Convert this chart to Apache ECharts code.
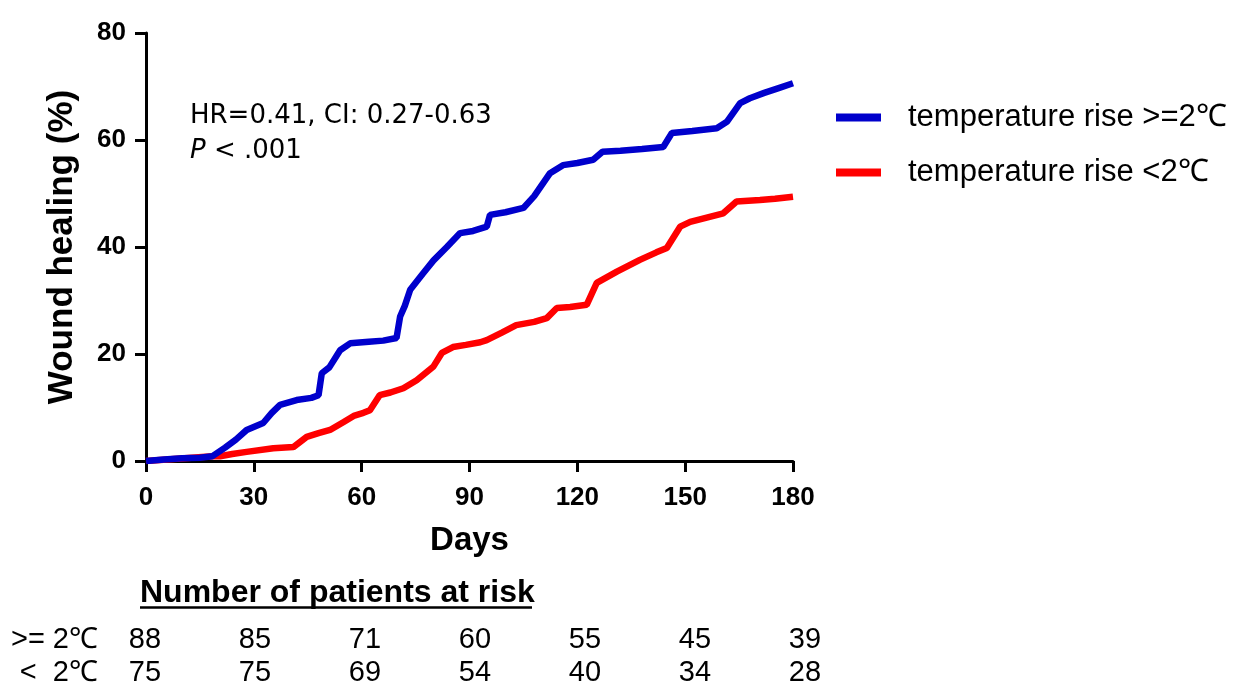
<!DOCTYPE html>
<html>
<head>
<meta charset="utf-8">
<script src="https://cdn.jsdelivr.net/npm/echarts@6/dist/echarts.min.js"></script>
<style>
html,body{margin:0;padding:0;background:#fff;}
#c{width:1234px;height:686px;}
</style>
</head>
<body>
<div id="c"></div>
<script>
// ---- data ----
var seriesNames = ['temperature rise >=2℃', 'temperature rise <2℃'];
var highRise = [[0,0],[5,0.3],[10,0.5],[15,0.6],[18.5,0.9],[22,2.5],[25,4],[28,5.8],[32.6,7.1],[35,9],[37.3,10.5],[41.9,11.4],[46,11.8],[48,12.3],[48.9,16.4],[51,17.5],[54,20.7],[56.8,22],[62,22.3],[66,22.5],[69.7,23],[70.7,27],[72,29],[73.5,32],[77,35],[80,37.5],[83.7,40],[87.4,42.6],[91,43],[94.8,43.8],[95.7,46],[100,46.5],[105,47.3],[108,49.5],[112.4,53.8],[116,55.3],[120,55.7],[124.4,56.3],[127,57.8],[132,58],[138,58.3],[143.9,58.7],[146.3,61.3],[152,61.7],[158.8,62.2],[161.6,63.4],[165.3,66.9],[168,67.8],[172,68.8],[176,69.7],[180,70.6]];
var lowRise = [[0,0],[18.5,0.9],[20.6,0.9],[24,1.3],[28,1.7],[35.4,2.4],[41,2.6],[44.7,4.5],[48,5.2],[51.2,5.8],[55,7.3],[58,8.5],[60.5,9],[62.3,9.5],[65,12.3],[68,12.8],[71.6,13.6],[75.3,15.1],[79.9,17.6],[82.3,20.2],[85.4,21.3],[89,21.7],[93,22.2],[94.8,22.6],[99,24],[103,25.4],[108,26],[111.5,26.7],[114.3,28.6],[118,28.8],[122.6,29.2],[125.4,33.3],[131,35.4],[137.4,37.6],[142,39],[144.9,39.8],[148.6,43.8],[151.4,44.7],[156,45.5],[160.6,46.3],[164.3,48.5],[170.8,48.8],[175,49],[180,49.4]];
var riskDays = [0, 30, 60, 90, 120, 150, 180];
var riskRowLabels = ['>= 2℃', '<  2℃'];
var riskHigh = [88, 85, 71, 60, 55, 45, 39];
var riskLow = [75, 75, 69, 54, 40, 34, 28];
var riskTitle = 'Number of patients at risk';
var annotation1 = 'HR=0.41, CI: 0.27-0.63';

var FONT = '"Liberation Sans", Arial, sans-serif';

function riskPoints(vals, row) {
  return vals.map(function (v, i) { return { value: [riskDays[i], row], label: { formatter: String(v) } }; });
}

var chart = echarts.init(document.getElementById('c'));
var axisLine = { show: true, lineStyle: { color: '#000', width: 3 } };
var axisTick = { show: true, inside: false, length: 11, lineStyle: { color: '#000', width: 3 } };
chart.setOption({
  backgroundColor: '#fff',
  animation: false,
  grid: [
    { left: 146, right: 441, top: 33, height: 428, containLabel: false, outerBoundsMode: 'none' },
    { left: 145, right: 429, top: 623, height: 66, containLabel: false, outerBoundsMode: 'none' }
  ],
  xAxis: [
    {
      gridIndex: 0, type: 'value', min: 0, max: 180, interval: 30,
      name: 'Days', nameLocation: 'middle', nameGap: 63,
      nameTextStyle: { fontFamily: FONT, fontWeight: 'bold', fontSize: 33, color: '#000' },
      axisLine: axisLine, axisTick: axisTick,
      axisLabel: { fontFamily: FONT, fontWeight: 'bold', fontSize: 26, color: '#000', margin: 24 },
      splitLine: { show: false }
    },
    { gridIndex: 1, type: 'value', min: 0, max: 180, show: false }
  ],
  yAxis: [
    {
      gridIndex: 0, type: 'value', min: 0, max: 80, interval: 20,
      name: 'Wound healing (%)', nameLocation: 'middle', nameGap: 66, nameRotate: 90,
      nameTextStyle: { fontFamily: FONT, fontWeight: 'bold', fontSize: 35, color: '#000' },
      axisLine: axisLine, axisTick: axisTick,
      axisLabel: { fontFamily: FONT, fontWeight: 'bold', fontSize: 26, color: '#000', margin: 20 },
      splitLine: { show: false }
    },
    {
      gridIndex: 1, type: 'category', data: riskRowLabels, inverse: true,
      axisLine: { show: false }, axisTick: { show: false }, splitLine: { show: false },
      axisLabel: { interval: 0, fontFamily: FONT, fontSize: 29, color: '#000', margin: 47 }
    }
  ],
  legend: {
    orient: 'vertical', left: 831, top: 97, itemWidth: 45, itemHeight: 8, itemGap: 24,
    icon: 'rect',
    data: [seriesNames[0], seriesNames[1]],
    textStyle: { fontFamily: FONT, fontSize: 31, color: '#000', padding: [0, 0, 0, 22] }
  },
  graphic: [
    { type: 'text', left: 190, top: 103, style: { text: annotation1, font: '26px "DejaVu Sans", sans-serif', fill: '#000' } },
    { type: 'text', left: 190, top: 138, style: { text: '{i|P} < .001', rich: { i: { fontStyle: 'italic', fontFamily: '"DejaVu Sans", sans-serif', fontSize: 26, fill: '#000' } }, font: '26px "DejaVu Sans", sans-serif', fill: '#000' } },
    { type: 'text', left: 140, top: 577, style: { text: riskTitle, font: 'bold 32px "Liberation Sans", Arial, sans-serif', fill: '#000' } },
    { type: 'line', shape: { x1: 140, y1: 607.5, x2: 532, y2: 607.5 }, style: { stroke: '#000', lineWidth: 2.5 } }
  ],
  series: [
    {
      name: seriesNames[1], type: 'line', xAxisIndex: 0, yAxisIndex: 0, data: lowRise,
      showSymbol: false, symbol: 'none', color: '#ff0000', lineStyle: { color: '#ff0000', width: 6.5 }, z: 2
    },
    {
      name: seriesNames[0], type: 'line', xAxisIndex: 0, yAxisIndex: 0, data: highRise,
      showSymbol: false, symbol: 'none', color: '#0000cc', lineStyle: { color: '#0000cc', width: 6.5 }, z: 3
    },
    {
      type: 'scatter', xAxisIndex: 1, yAxisIndex: 1, symbolSize: 0, silent: true,
      itemStyle: { opacity: 1, color: '#000' },
      data: riskPoints(riskHigh, 0).concat(riskPoints(riskLow, 1)),
      label: { show: true, position: 'inside', fontFamily: FONT, fontSize: 29, color: '#000', opacity: 1 }
    }
  ]
});
</script>
</body>
</html>
